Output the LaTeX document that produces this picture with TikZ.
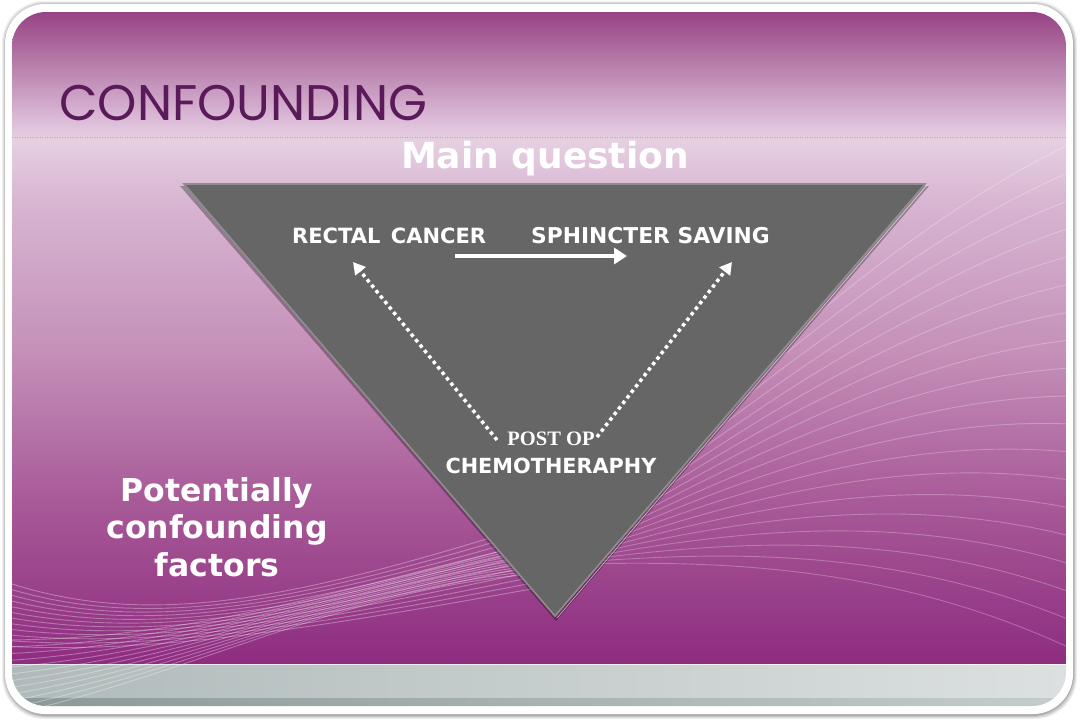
\documentclass[tikz,border=0pt]{standalone}
\usepackage{fontspec}
\usetikzlibrary{arrows.meta}
\newfontfamily\sansb{DejaVu Sans}
\newfontfamily\titlefont{Poppins}
\newfontfamily\serifb{Liberation Serif}
\definecolor{titlecol}{HTML}{5A1A5A}
\definecolor{trigray}{HTML}{666666}
\definecolor{triedge}{HTML}{8E8E8E}
\definecolor{pA}{HTML}{974285}
\definecolor{pB}{HTML}{B47AA8}
\definecolor{pC}{HTML}{DCBCD8}
\definecolor{pD}{HTML}{E6D0E2}
\definecolor{pE}{HTML}{D8B6D2}
\definecolor{pF}{HTML}{C590B9}
\definecolor{pG}{HTML}{A85A98}
\definecolor{pH}{HTML}{8E2C80}
\definecolor{bandL}{HTML}{B0BABA}
\definecolor{bandR}{HTML}{DCE0E0}
\definecolor{stripL}{HTML}{8C9898}
\definecolor{stripR}{HTML}{C4CCCC}
\definecolor{sepcol}{HTML}{BEA0B9}
\pgfdeclareverticalshading{slidebg}{100bp}{
 color(0bp)=(pH); color(25bp)=(pH); color(37.6bp)=(pG); color(49.1bp)=(pF);
 color(60.6bp)=(pE); color(65.2bp)=(pD); color(66.7bp)=(pC); color(71.3bp)=(pB);
 color(75bp)=(pA); color(100bp)=(pA)}
\tikzset{
 whitebold/.style={text=white,font=\sansb\bfseries,inner sep=0pt},
 deco/.style={white,opacity=0.26,line width=0.9pt},
 decob/.style={white,opacity=0.32,line width=0.9pt},
 solidarrow/.style={white,line width=3.5pt,-{Triangle[length=13pt,width=16pt]}},
 dotarrow/.style={white,line width=3.5pt,dash pattern=on 3.5pt off 3.5pt,-{Triangle[length=12pt,width=13pt]}}
}
\begin{document}
\begin{tikzpicture}[x=1pt,y=-1pt]
\useasboundingbox (0,0) rectangle (1080,720);
\fill[white] (0,0) rectangle (1080,720);
% frame shadow
\foreach \k/\o in {4/0.06,3/0.08,2/0.1,1/0.12}{
 \fill[black,opacity=\o,rounded corners=42pt] (6-\k,5-\k) rectangle (1073+\k,715+\k);
}
\fill[white,rounded corners=40pt] (5,4) rectangle (1073,714);
% inner area
\begin{scope}
\clip[rounded corners=34pt] (12,12) rectangle (1066,706);
\shade[shading=slidebg] (12,12) rectangle (1066,664);
\shade[left color=bandL, right color=bandR] (12,664) rectangle (1066,698);
\shade[left color=stripL, right color=stripR] (12,698) rectangle (1066,706);
\draw[white,opacity=0.7,line width=0.8pt] (12,664.5) -- (1066,664.5);
% decorative fan on the right (starts behind the triangle)
\foreach \i in {0,...,18}{
 \draw[deco] (545,565) .. controls (700,{560-8*\i}) and (880,{560-18*\i}) .. (1070,{648-28*\i});
}
% decorative swoop lower left (ends behind the triangle)
\foreach \i in {0,...,11}{
 \draw[decob] (0,{580+6*\i}) .. controls (150,{632+2*\i}) and (300,{598+3*\i}) .. (548,{520+6*\i});
}
\foreach \i in {0,...,11}{
 \draw[decob] (0,{640+7*\i}) .. controls (200,{640+3*\i}) and (350,{585}) .. (548,{540+3*\i});
}
\end{scope}
% dotted separator
\draw[sepcol,line width=1pt,dash pattern=on 1pt off 1.5pt] (12,137) -- (1066,137);
% title
\node[anchor=base west,inner sep=0pt,text=titlecol,font=\titlefont\fontsize{50}{56}\selectfont] (title) at (59,120) {CONFOUNDING};
\node[whitebold,anchor=base,font=\sansb\bfseries\fontsize{36}{40}\selectfont] (mq) at (545,168) {Main question};
% triangle
\fill[black,opacity=0.3] (180,186) -- (929,186) -- (556,621) -- cycle;
\fill[trigray] (183,183) -- (926,183) -- (555,617) -- cycle;
\draw[triedge,line width=1.6pt,line join=miter] (184,184) -- (925,184) -- (555,616) -- cycle;
\draw[white,opacity=0.6,line width=0.7pt] (927,185) -- (557,618);
% labels
\node[whitebold,anchor=base west,font=\sansb\bfseries\fontsize{21}{24}\selectfont] (rc) at (292,243) {RECTAL\,\,\,CANCER};
\node[whitebold,anchor=base west,font=\sansb\bfseries\fontsize{21.8}{24}\selectfont] (ss) at (531,243) {SPHINCTER SAVING};
\node[anchor=base,inner sep=0pt,text=white,font=\serifb\bfseries\fontsize{20.5}{22}\selectfont] (po) at (551,445) {POST OP};
\node[whitebold,anchor=base,font=\sansb\bfseries\fontsize{20.8}{24}\selectfont] (ch) at (551,473) {CHEMOTHERAPHY};
\node[whitebold,anchor=north,align=center,font=\sansb\bfseries\fontsize{31.5}{37.5}\selectfont] (pcf) at (217,477) {Potentially\\confounding\\factors};
% arrow end points
\coordinate (a1) at (455,256);
\coordinate (a2) at (627,256);
\coordinate (l1) at (497,440);
\coordinate (l2) at (353,262);
\coordinate (r1) at (597,437);
\coordinate (r2) at (732,262);
\draw[solidarrow] (a1) -- (a2);
\draw[dotarrow] (l1) -- (l2);
\draw[dotarrow] (r1) -- (r2);
\end{tikzpicture}
\end{document}
